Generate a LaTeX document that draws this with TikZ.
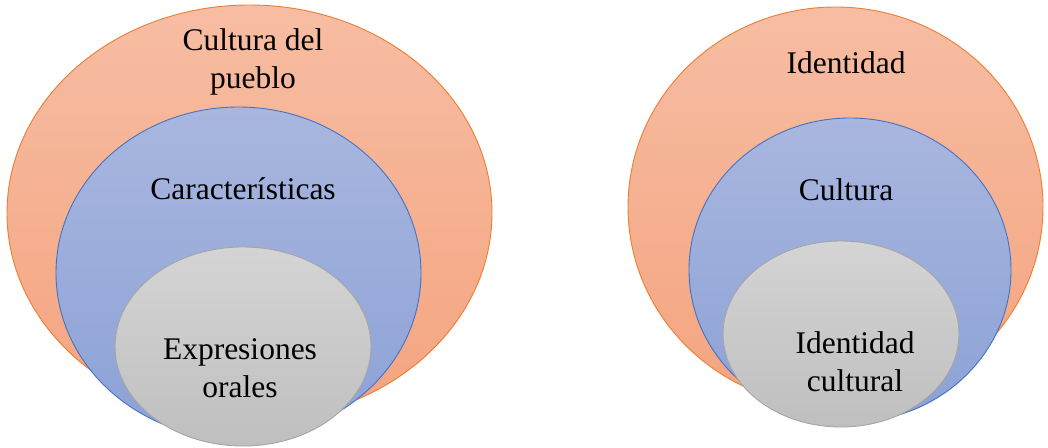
\documentclass[tikz,border=0pt]{standalone}
\usepackage{fontspec}
\setmainfont{Liberation Serif}
\usetikzlibrary{shapes.geometric}

\definecolor{orangeTop}{HTML}{F7BDA3}
\definecolor{orangeBot}{HTML}{F4A47F}
\definecolor{orangeLine}{HTML}{ED7D31}
\definecolor{blueTop}{HTML}{A9B7DF}
\definecolor{blueBot}{HTML}{8BA1D6}
\definecolor{blueLine}{HTML}{4472C4}
\definecolor{greyTop}{HTML}{D4D4D4}
\definecolor{greyBot}{HTML}{BFBFBF}
\definecolor{greyLine}{HTML}{A5A5A5}

\tikzset{
  ring/.style={ellipse, inner sep=0pt, outer sep=0pt, line width=0.9pt},
  outerring/.style={ring, top color=orangeTop, bottom color=orangeBot, draw=orangeLine},
  midring/.style={ring, top color=blueTop, bottom color=blueBot, draw=blueLine},
  innerring/.style={ring, top color=greyTop, bottom color=greyBot, draw=greyLine},
  label/.style={anchor=base, align=center, inner sep=0pt, text=black,
    font=\fontsize{31.5}{38}\selectfont},
}

\begin{document}
\begin{tikzpicture}[x=1pt,y=-1pt]
  \useasboundingbox (0,0) rectangle (1048,447);

  % left set: people's culture
  \node[outerring, minimum width=485pt, minimum height=416pt] (cultL) at (249.5,213) {};
  \node[midring, minimum width=365pt, minimum height=332pt] (caracL) at (238.5,273) {};
  \node[innerring, minimum width=256pt, minimum height=199pt] (exprL) at (243,346.5) {};

  % two-line labels sit on the baseline of their last line
  \node[label] (tCult) at (253,88) {Cultura del\\pueblo};
  \node[label] (tCarac) at (243,199) {Características};
  \node[label] (tExpr) at (240,397) {Expresiones\\orales};

  % right set: identity
  \node[outerring, minimum width=415pt, minimum height=400pt] (idR) at (835.5,207) {};
  \node[midring, minimum width=322pt, minimum height=304pt] (cultR) at (850,270) {};
  \node[innerring, minimum width=236pt, minimum height=186pt] (idcR) at (841,334) {};

  \node[label] (tId) at (846,73) {Identidad};
  \node[label] (tCultR) at (846,200) {Cultura};
  \node[label] (tIdc) at (855,391) {Identidad\\cultural};
\end{tikzpicture}
\end{document}
